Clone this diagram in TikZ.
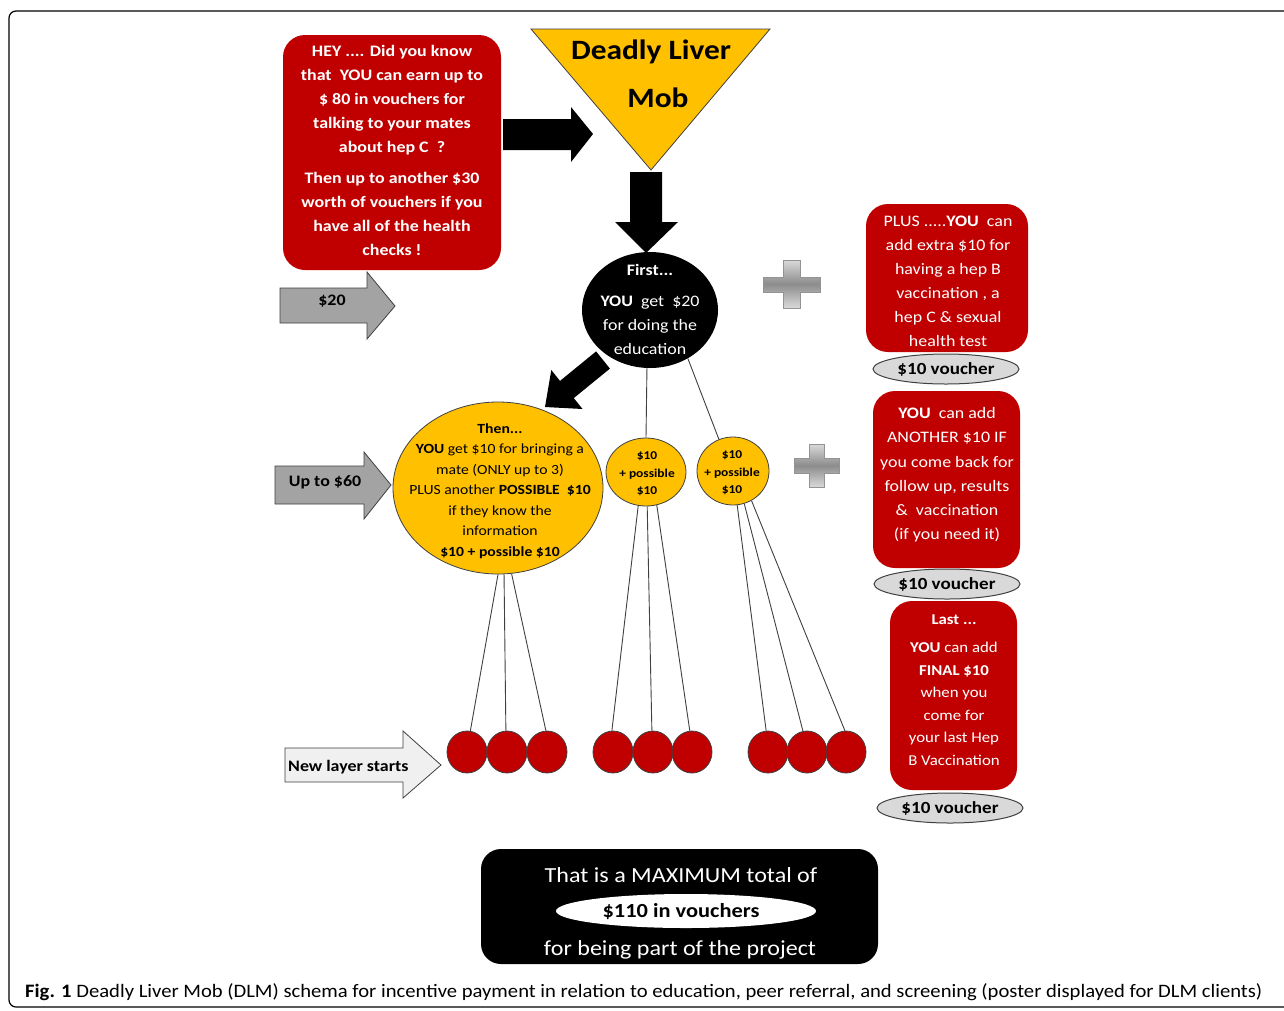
\documentclass[tikz,border=0pt]{standalone}
\usepackage{fontspec}
\usepackage{graphicx}
\setmainfont{Carlito}[FakeStretch=1.12]
\newfontfamily\capfont{Carlito}
\usetikzlibrary{shapes.geometric}
\definecolor{dred}{HTML}{C00000}
\definecolor{gold}{HTML}{FFC000}
\definecolor{lgray}{HTML}{D9D9D9}
\definecolor{mgray}{HTML}{A3A3A3}
\definecolor{dgray}{HTML}{404040}
\begin{document}
\begin{tikzpicture}[x=1pt,y=-1pt,
  redbox/.style={rectangle, fill=dred, draw=none, rounded corners=22pt, inner sep=0pt},
  conn/.style={draw=dgray, line width=0.9pt},
  ball/.style={ellipse, fill=dred, draw=dgray, line width=0.8pt, minimum width=40pt, minimum height=42pt, inner sep=0pt},
  voucher/.style={ellipse, fill=lgray, draw=dgray, line width=1pt, minimum width=146pt, minimum height=30pt, inner sep=0pt, font=\bfseries\fontsize{17}{20}\selectfont},
  ytxt/.style={align=center, inner sep=0pt},
  wtxt/.style={align=center, inner sep=0pt, text=white},
  arrowlbl/.style={inner sep=0pt, font=\bfseries\fontsize{16}{20}\selectfont},
  plusshape/.style={top color=lgray, bottom color=lgray, middle color=gray!90, draw=gray!85, line width=0.8pt}
]
\useasboundingbox (0,0) rectangle (1284,1010);
\fill[white] (0,0) rectangle (1284,1010);
% frame
\draw[line width=1.2pt, rounded corners=7pt] (9,1007) -- (9,11) -- (1300,11) -- (1300,1007) -- cycle;

% top-left red box
\node[redbox, minimum width=218pt, minimum height=235pt] (hey) at (392,152.5) {};
\node[wtxt, font=\bfseries\fontsize{16}{24}\selectfont] (heytxt) at (392,150)
 {HEY .... Did you know\\that\ \ YOU can earn up to\\\$ 80 in vouchers for\\talking to your mates\\about hep C\ \ ?\\[7pt]Then up to another \$30\\worth of vouchers if you\\have all of the health\\checks !};

% black right arrow
\fill[black] (503,119) -- (571,119) -- (571,107) -- (593,134) -- (571,162) -- (571,150) -- (503,150) -- cycle;

% triangle
\filldraw[fill=gold, draw=dgray, line width=0.8pt] (531,29) -- (770,29) -- (651,170) -- cycle;
\node[inner sep=0pt, font=\bfseries\fontsize{28}{32}\selectfont] (dl) at (651,52) {Deadly Liver};
\node[inner sep=0pt, font=\bfseries\fontsize{28}{32}\selectfont] (mob) at (658,98) {Mob};

% down arrow
\fill[black] (630,172) -- (662,172) -- (662,222) -- (678,222) -- (646,253) -- (615,222) -- (630,222) -- cycle;

% diagonal arrow
\fill[black] (596.1,351.4) -- (560,380.9) -- (551.3,370) -- (545,407) -- (582.5,409) -- (573.8,398.1) -- (609.9,368.6) -- cycle;

% black circle
\node[ellipse, fill=black, minimum width=136pt, minimum height=116pt, inner sep=0pt] (bc) at (650,310) {};
\node[wtxt, font=\fontsize{16}{24}\selectfont] (bctxt) at (650,309)
 {\textbf{First...}\\[7pt]\textbf{YOU}\ \ get\ \ \$20\\for doing the\\education};

% gray arrows
\filldraw[fill=mgray, draw=dgray, line width=0.8pt] (280,288) -- (367,288) -- (367,272) -- (395,306) -- (367,339) -- (367,323) -- (280,323) -- cycle;
\node[arrowlbl] (a20) at (332,301) {\$20};
\filldraw[fill=mgray, draw=dgray, line width=0.8pt] (275,466) -- (364,466) -- (364,452) -- (391,485) -- (364,519) -- (364,504) -- (275,504) -- cycle;
\node[arrowlbl] (a60) at (325,482) {Up to \$60};
\filldraw[fill=gray!12, draw=dgray, line width=0.8pt] (285,748) -- (403,748) -- (403,731) -- (441,765) -- (403,798) -- (403,782) -- (285,782) -- cycle;
\node[arrowlbl, anchor=west] (anl) at (288,767) {New layer starts};

% plus signs
\shade[plusshape] (783,260) -- (800,260) -- (800,277) -- (820,277) -- (820,292) -- (800,292) -- (800,308) -- (783,308) -- (783,292) -- (763,292) -- (763,277) -- (783,277) -- cycle;
\shade[plusshape] (809,444) -- (824,444) -- (824,458) -- (839,458) -- (839,473) -- (824,473) -- (824,487) -- (809,487) -- (809,473) -- (794,473) -- (794,458) -- (809,458) -- cycle;

% right boxes
\node[redbox, minimum width=162pt, minimum height=148pt] (r1) at (947,278) {};
\node[wtxt, font=\fontsize{16}{24}\selectfont] (r1t) at (948,281)
 {PLUS .....\textbf{YOU}\ \ can\\add extra \$10 for\\having a hep B\\vaccination , a\\hep C \& sexual\\health test};
\node[voucher] (v1) at (946,369) {\$10 voucher};

\node[redbox, minimum width=147pt, minimum height=177pt] (r2) at (946.5,479.5) {};
\node[wtxt, font=\fontsize{16}{24.2}\selectfont] (r2t) at (947,475)
 {\textbf{YOU}\ \ can add\\ANOTHER \$10 IF\\you come back for\\follow up, results\\\&\ \ vaccination\\(if you need it)};
\node[voucher] (v2) at (947,584) {\$10 voucher};

\node[redbox, minimum width=127pt, minimum height=189pt] (r3) at (953.5,695.5) {};
\node[wtxt, font=\fontsize{15}{22.5}\selectfont] (r3t) at (954,690)
 {\textbf{Last ...}\\[6pt]\textbf{YOU} can add\\\textbf{FINAL \$10}\\when you\\come for\\your last Hep\\B Vaccination};
\node[voucher] (v3) at (950,808) {\$10 voucher};

% yellow circles
\node[ellipse, fill=gold, draw=dgray, line width=0.8pt, minimum width=210pt, minimum height=172pt, inner sep=0pt] (by) at (498,488) {};
\node[ytxt, font=\fontsize{14}{20.5}\selectfont] (bytxt) at (500,491)
 {\textbf{Then...}\\\textbf{YOU} get \$10 for bringing a\\mate (ONLY up to 3)\\PLUS another \textbf{POSSIBLE}\ \ \textbf{\$10}\\if they know the\\information\\\textbf{\$10 + possible \$10}};
\node[ellipse, fill=gold, draw=dgray, line width=0.8pt, minimum width=80pt, minimum height=68pt, inner sep=0pt] (s1) at (646,472) {};
\node[ytxt, font=\bfseries\fontsize{12}{17.5}\selectfont] (s1t) at (647,474) {\$10\\+ possible\\\$10};
\node[ellipse, fill=gold, draw=dgray, line width=0.8pt, minimum width=72pt, minimum height=68pt, inner sep=0pt] (s2) at (733,471) {};
\node[ytxt, font=\bfseries\fontsize{12}{17.5}\selectfont] (s2t) at (732,473) {\$10\\+ possible\\\$10};

% balls
\foreach \n/\x in {1/467,2/507,3/547,4/613,5/653,6/692,7/768,8/807,9/846}
  \node[ball] (b\n) at (\x,752) {};

% connectors
\draw[conn] (bc.-93) -- (s1.north);
\draw[conn] (bc.-52) -- (s2.114);
\draw[conn] (by.-90.7) -- (b1.81);
\draw[conn] (by.-86.6) -- (b2.93);
\draw[conn] (by.-81.3) -- (b3.93);
\draw[conn] (s1.-103) -- (b4.93);
\draw[conn] (s1.-88) -- (b5.93);
\draw[conn] (s1.-72) -- (b6.96);
\draw[conn] (s2.-83) -- (b7.95);
\draw[conn] (s2.-71) -- (b8.101);
\draw[conn] (s2.-58) -- (b9.93);

% bottom box
\node[rectangle, fill=black, rounded corners=20pt, minimum width=397pt, minimum height=115pt, inner sep=0pt] (tot) at (679.5,906.5) {};
\node[wtxt, font=\fontsize{21.5}{24}\selectfont] (tot1) at (681,875) {That is a MAXIMUM total of};
\node[ellipse, fill=white, minimum width=260pt, minimum height=34pt, inner sep=0pt] (tote) at (686,911) {};
\node[inner sep=0pt, font=\bfseries\fontsize{20}{24}\selectfont] (tot2) at (681,912) {\$110 in vouchers};
\node[wtxt, font=\fontsize{21.5}{24}\selectfont] (tot3) at (680,950) {for being part of the project};

% caption
\node[anchor=west, inner sep=0pt, font=\capfont\fontsize{19}{22}\selectfont] (cap) at (25,992)
 {\resizebox{1237pt}{\height}{\textbf{Fig. 1} Deadly Liver Mob (DLM) schema for incentive payment in relation to education, peer referral, and screening (poster displayed for DLM clients)}};
\end{tikzpicture}
\end{document}
